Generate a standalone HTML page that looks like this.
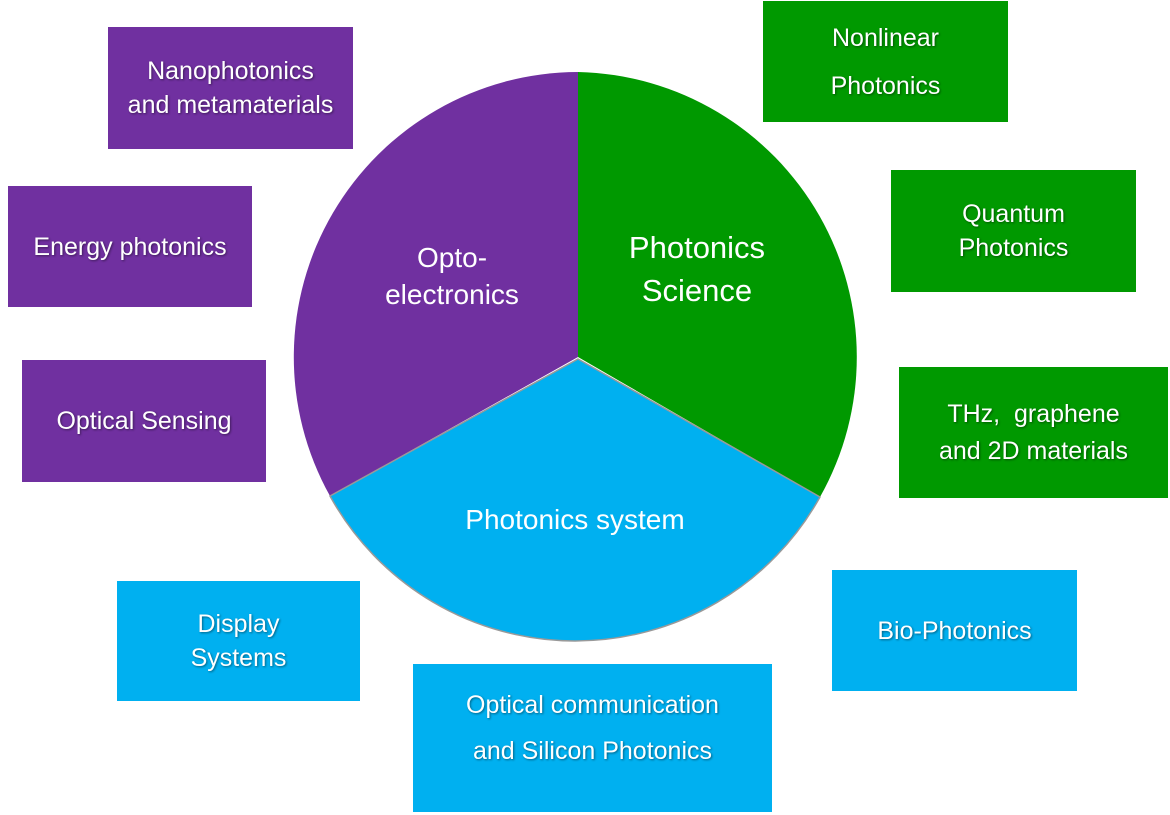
<!DOCTYPE html><html><head><style>
body{margin:0;width:1170px;height:815px;background:#fff;position:relative;overflow:hidden;font-family:"Liberation Sans",sans-serif}
.b{position:absolute;display:flex;align-items:center;justify-content:center;text-align:center;color:#fff;font-size:25px;line-height:34px;text-shadow:1px 1px 2px rgba(0,0,0,.45)}
.p{background:#7030a0}.g{background:#009900}.c{background:#00b0f0}
svg{position:absolute;left:0;top:0}
</style></head><body>
<svg width="1170" height="815">
<path d="M578,357 L578,72 A285,285 0 0 0 330,496 Z" fill="#7030a0"/>
<path d="M578,357 L578,72 A285,285 0 0 1 820,497 Z" fill="#009900"/>
<path d="M578,359 L820,497 A280,280 0 0 1 330,496 Z" fill="#00b0f0" stroke="#999" stroke-width="1.5"/>
<g fill="#fff" font-family="Liberation Sans,sans-serif" text-anchor="middle">
<text x="452" y="267" font-size="28">Opto-</text>
<text x="452" y="304" font-size="28">electronics</text>
<text x="697" y="258" font-size="31">Photonics</text>
<text x="697" y="301" font-size="31">Science</text>
<text x="575" y="529" font-size="28">Photonics system</text>
</g></svg>
<div class="b p" style="left:108px;top:27px;width:245px;height:122px">Nanophotonics<br>and metamaterials</div>
<div class="b p" style="left:8px;top:186px;width:244px;height:121px">Energy photonics</div>
<div class="b p" style="left:22px;top:360px;width:244px;height:122px">Optical Sensing</div>
<div class="b c" style="left:117px;top:581px;width:243px;height:120px">Display<br>Systems</div>
<div class="b c" style="left:413px;top:664px;width:359px;height:148px;align-items:flex-start;padding-top:18px;box-sizing:border-box;line-height:46px">Optical communication<br>and Silicon Photonics</div>
<div class="b c" style="left:832px;top:570px;width:245px;height:121px">Bio-Photonics</div>
<div class="b g" style="left:899px;top:367px;width:269px;height:131px;line-height:37px">THz,&nbsp; graphene<br>and 2D materials</div>
<div class="b g" style="left:891px;top:170px;width:245px;height:122px">Quantum<br>Photonics</div>
<div class="b g" style="left:763px;top:1px;width:245px;height:121px;line-height:48px">Nonlinear<br>Photonics</div>
</body></html>
